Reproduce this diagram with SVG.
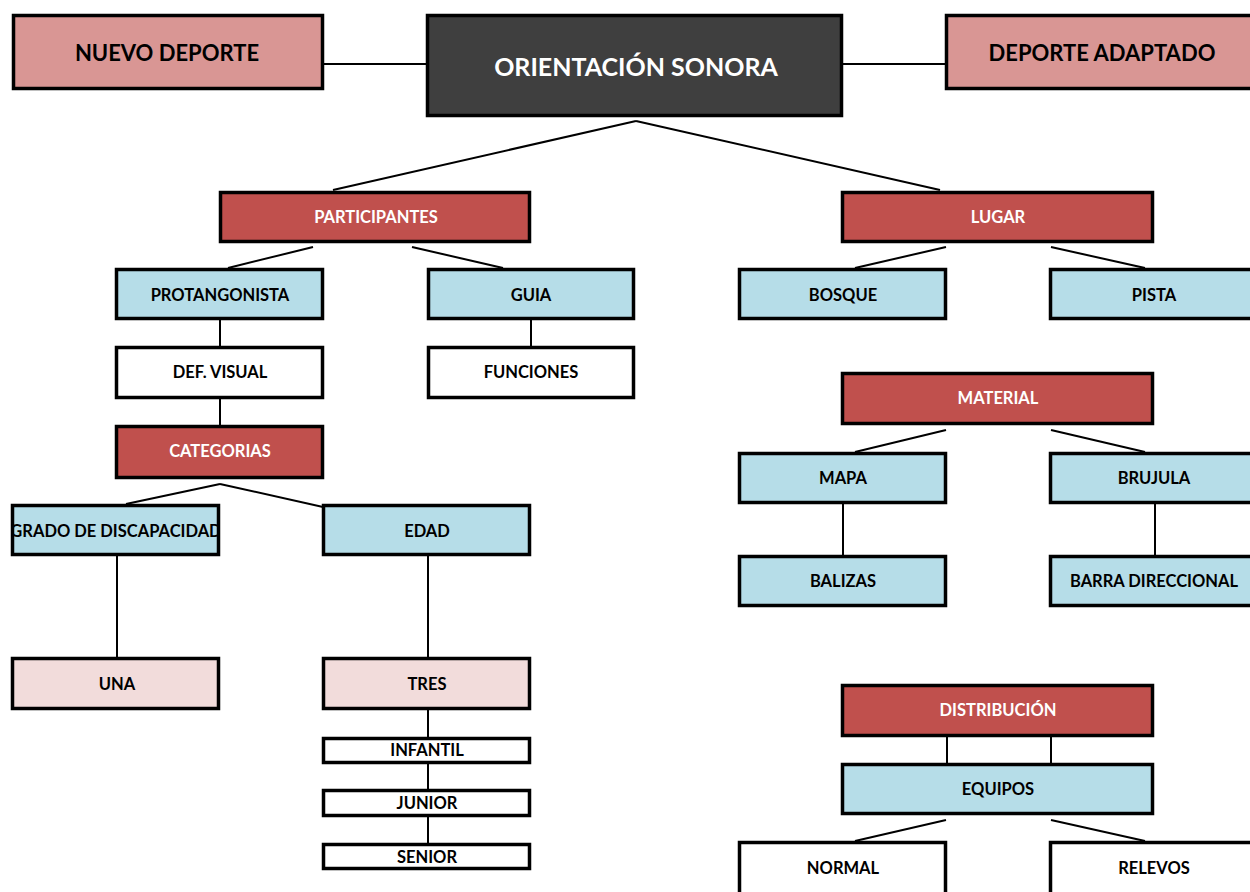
<svg xmlns="http://www.w3.org/2000/svg" width="1250" height="892" viewBox="0 0 1250 892">
<style>
rect{stroke:#000;stroke-width:3.5}
.t{font-family:Lato,"Liberation Sans",sans-serif;font-weight:bold;text-anchor:middle;dominant-baseline:central;font-size:16.5px;fill:#000}
.w{fill:#fff}
.big{font-size:22px}
.huge{font-size:25px}
.pk{fill:#D99694}
.dk{fill:#3F3F3F}
.rd{fill:#C0504D}
.bl{fill:#B6DDE8}
.lp{fill:#F2DCDB}
.wh{fill:#fff}
.c line{stroke:#000;stroke-width:2}
</style>
<defs><clipPath id="gclip"><rect x="11" y="504" width="209" height="52" style="stroke:none"/></clipPath></defs>
<rect x="0" y="0" width="1250" height="892" style="fill:#fff;stroke:none"/>
<g class="c" id="connectors">
<line x1="324" y1="64" x2="427" y2="64"/>
<line x1="842" y1="64" x2="946" y2="64"/>
<line x1="636" y1="121" x2="333" y2="190"/>
<line x1="636" y1="121" x2="940" y2="190"/>
<line x1="313" y1="247" x2="228" y2="268"/>
<line x1="412" y1="247" x2="503" y2="268"/>
<line x1="220" y1="320" x2="220" y2="346"/>
<line x1="531" y1="320" x2="531" y2="346"/>
<line x1="220" y1="399" x2="220" y2="425"/>
<line x1="220" y1="484" x2="126" y2="504"/>
<line x1="220" y1="484" x2="323" y2="507"/>
<line x1="117" y1="556" x2="117" y2="657"/>
<line x1="428" y1="556" x2="428" y2="657"/>
<line x1="428" y1="710" x2="428" y2="843"/>
<line x1="946" y1="247" x2="855" y2="268"/>
<line x1="1051" y1="247" x2="1145" y2="268"/>
<line x1="946" y1="430" x2="855" y2="452"/>
<line x1="1051" y1="430" x2="1145" y2="452"/>
<line x1="843" y1="504" x2="843" y2="555"/>
<line x1="1155" y1="504" x2="1155" y2="555"/>
<line x1="947" y1="737" x2="947" y2="763"/>
<line x1="1051" y1="737" x2="1051" y2="763"/>
<line x1="946" y1="820" x2="855" y2="841"/>
<line x1="1051" y1="820" x2="1145" y2="841"/>
</g>
<g id="nuevo"><rect class="pk" x="13.5" y="15.5" width="309" height="73"/><text class="t big" x="167" y="52">NUEVO DEPORTE</text></g>
<g id="orientacion"><rect class="dk" x="427.5" y="15.5" width="414" height="100"/><text class="t huge w" x="636" y="66">ORIENTACIÓN SONORA</text></g>
<g id="adaptado"><rect class="pk" x="946.5" y="15.5" width="310" height="73"/><text class="t big" x="1102" y="52">DEPORTE ADAPTADO</text></g>
<g id="participantes"><rect class="rd" x="220.5" y="192.5" width="309" height="49"/><text class="t w" x="376" y="217">PARTICIPANTES</text></g>
<g id="lugar"><rect class="rd" x="842.5" y="192.5" width="310" height="49"/><text class="t w" x="998" y="217">LUGAR</text></g>
<g id="protangonista"><rect class="bl" x="116.5" y="269.5" width="206" height="49"/><text class="t" x="220" y="295">PROTANGONISTA</text></g>
<g id="guia"><rect class="bl" x="428.5" y="269.5" width="205" height="49"/><text class="t" x="531" y="295">GUIA</text></g>
<g id="defvisual"><rect class="wh" x="116.5" y="347.5" width="206" height="50"/><text class="t" x="220" y="372">DEF. VISUAL</text></g>
<g id="funciones"><rect class="wh" x="428.5" y="347.5" width="205" height="50"/><text class="t" x="531" y="372">FUNCIONES</text></g>
<g id="categorias"><rect class="rd" x="116.5" y="426.5" width="206" height="51"/><text class="t w" x="220" y="451">CATEGORIAS</text></g>
<g id="grado"><rect class="bl" x="12.5" y="505.5" width="206" height="49"/><text class="t" x="116" y="531" clip-path="url(#gclip)">GRADO DE DISCAPACIDAD</text></g>
<g id="edad"><rect class="bl" x="323.5" y="505.5" width="206" height="49"/><text class="t" x="427" y="531">EDAD</text></g>
<g id="una"><rect class="lp" x="12.5" y="658.5" width="206" height="50"/><text class="t" x="117" y="684">UNA</text></g>
<g id="tres"><rect class="lp" x="323.5" y="658.5" width="206" height="50"/><text class="t" x="427" y="684">TRES</text></g>
<g id="infantil"><rect class="wh" x="323.5" y="738.5" width="206" height="24"/><text class="t" x="427" y="750">INFANTIL</text></g>
<g id="junior"><rect class="wh" x="323.5" y="790.5" width="206" height="25"/><text class="t" x="427" y="803">JUNIOR</text></g>
<g id="senior"><rect class="wh" x="323.5" y="844.5" width="206" height="24"/><text class="t" x="427" y="857">SENIOR</text></g>
<g id="bosque"><rect class="bl" x="739.5" y="269.5" width="206" height="49"/><text class="t" x="843" y="295">BOSQUE</text></g>
<g id="pista"><rect class="bl" x="1050.5" y="269.5" width="206" height="49"/><text class="t" x="1154" y="295">PISTA</text></g>
<g id="material"><rect class="rd" x="842.5" y="373.5" width="310" height="50"/><text class="t w" x="998" y="398">MATERIAL</text></g>
<g id="mapa"><rect class="bl" x="739.5" y="453.5" width="206" height="49"/><text class="t" x="843" y="478">MAPA</text></g>
<g id="brujula"><rect class="bl" x="1050.5" y="453.5" width="206" height="49"/><text class="t" x="1154" y="478">BRUJULA</text></g>
<g id="balizas"><rect class="bl" x="739.5" y="556.5" width="206" height="49"/><text class="t" x="843" y="581">BALIZAS</text></g>
<g id="barra"><rect class="bl" x="1050.5" y="556.5" width="206" height="49"/><text class="t" x="1154" y="581">BARRA DIRECCIONAL</text></g>
<g id="distribucion"><rect class="rd" x="842.5" y="685.5" width="310" height="50"/><text class="t w" x="998" y="710">DISTRIBUCIÓN</text></g>
<g id="equipos"><rect class="bl" x="842.5" y="764.5" width="310" height="49"/><text class="t" x="998" y="789">EQUIPOS</text></g>
<g id="normal"><rect class="wh" x="739.5" y="842.5" width="206" height="60"/><text class="t" x="843" y="868">NORMAL</text></g>
<g id="relevos"><rect class="wh" x="1050.5" y="842.5" width="206" height="60"/><text class="t" x="1154" y="868">RELEVOS</text></g>
</svg>
